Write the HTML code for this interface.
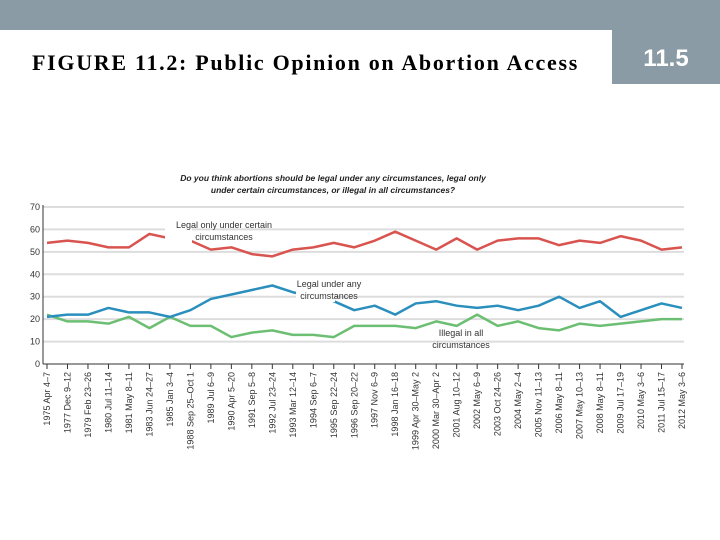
<!DOCTYPE html>
<html><head><meta charset="utf-8"><style>
body{margin:0;width:720px;height:540px;overflow:hidden;background:#fff;position:relative;font-family:"Liberation Sans",sans-serif}
#bar{position:absolute;left:0;top:0;width:720px;height:30px;background:#8a9ba5}
#box{position:absolute;left:612px;top:0;width:108px;height:84px;background:#8a9ba5;color:#fff;font-weight:bold;font-size:24px;text-align:center;line-height:118px}
#title{position:absolute;left:32px;top:50px;font-family:"Liberation Serif",serif;font-weight:bold;font-size:22px;letter-spacing:1.7px;color:#000;white-space:nowrap}
svg{position:absolute;left:0;top:0}
</style></head><body>
<div id="bar"></div>
<div id="box">11.5</div>
<div id="title">FIGURE 11.2: Public Opinion on Abortion Access</div>
<svg id="chart" width="720" height="540"></svg>
<script>
const categories=["1975 Apr 4–7","1977 Dec 9–12","1979 Feb 23–26","1980 Jul 11–14","1981 May 8–11","1983 Jun 24–27","1985 Jan 3–4","1988 Sep 25–Oct 1","1989 Jul 6–9","1990 Apr 5–20","1991 Sep 5–8","1992 Jul 23–24","1993 Mar 12–14","1994 Sep 6–7","1995 Sep 22–24","1996 Sep 20–22","1997 Nov 6–9","1998 Jan 16–18","1999 Apr 30–May 2","2000 Mar 30–Apr 2","2001 Aug 10–12","2002 May 6–9","2003 Oct 24–26","2004 May 2–4","2005 Nov 11–13","2006 May 8–11","2007 May 10–13","2008 May 8–11","2009 Jul 17–19","2010 May 3–6","2011 Jul 15–17","2012 May 3–6"];
const legalCertain=[54,55,54,52,52,58,56,55,51,52,49,48,51,52,54,52,55,59,55,51,56,51,55,56,56,53,55,54,57,55,51,52];
const legalAny=[21,22,22,25,23,23,21,24,29,31,33,35,32,30,28,24,26,22,27,28,26,25,26,24,26,30,25,28,21,24,27,25];
const illegalAll=[22,19,19,18,21,16,21,17,17,12,14,15,13,13,12,17,17,17,16,19,17,22,17,19,16,15,18,17,18,19,20,20];
const yTicks=[0,10,20,30,40,50,60,70];
const svg=document.getElementById('chart');const NS='http://www.w3.org/2000/svg';
const x0=43,x1=684,y0=364,yTop=207;
const xs=i=>x0+4+i*(x1-x0-6)/(categories.length-1);
const ys=v=>y0-(v/70)*(y0-yTop);
function mk(t,a){const e=document.createElementNS(NS,t);for(const k in a)e.setAttribute(k,a[k]);svg.appendChild(e);return e;}
let t=mk('text',{x:333,y:181,'text-anchor':'middle','font-size':'8.5','font-style':'italic','font-weight':'bold',fill:'#222'});t.textContent='Do you think abortions should be legal under any circumstances, legal only';


t=mk('text',{x:333,y:193,'text-anchor':'middle','font-size':'8.5','font-style':'italic','font-weight':'bold',fill:'#222'});t.textContent='under certain circumstances, or illegal in all circumstances?';


yTicks.forEach(v=>{
 if(v>0){const g=mk('line',{x1:x0,x2:x1,y1:ys(v),y2:ys(v),stroke:'#ddd','stroke-width':2});
 
 }
 const l=mk('text',{x:40,y:ys(v)+3,'text-anchor':'end','font-size':'9',fill:'#333'});l.textContent=v;
 
 
});
let a=mk('line',{x1:x0,x2:x0,y1:yTop-2,y2:y0,stroke:'#333'});


a=mk('line',{x1:x0,x2:x1,y1:y0,y2:y0,stroke:'#333'});


categories.forEach((c,i)=>{
 const tk=mk('line',{x1:xs(i),x2:xs(i),y1:y0,y2:y0+5,stroke:'#333'});
 
 
 const l=mk('text',{x:xs(i)+3,y:y0+8,'text-anchor':'end','font-size':'9',fill:'#333',transform:`rotate(-90 ${xs(i)+3} ${y0+8})`});l.textContent=c;
 
 
});
function series(d,col,name){
 const p=mk('polyline',{points:d.map((v,i)=>xs(i)+','+ys(v)).join(' '),fill:'none',stroke:col,'stroke-width':2.5,'stroke-linejoin':'round'});
 
 
}
function gap(x,y,w,h,name){
 const r=mk('rect',{x:x,y:y,width:w,height:h,fill:'#fff'});
 
 
}
series(illegalAll,'#6cbf72','line-illegal-all');
series(legalAny,'#2a8fbd','line-legal-any');
series(legalCertain,'#d9534f','line-legal-certain');
gap(165,225,27,20,'red-line-gap');
gap(296,280,39,22,'blue-line-gap');
function lab(cx,y,lines,name){
 lines.forEach((s,i)=>{const tt=mk('text',{x:cx,y:y+i*12,'text-anchor':'middle','font-size':'9',fill:'#333'});tt.textContent=s;
 
 });
}
lab(224,228,['Legal only under certain','circumstances'],'label-legal-certain');
lab(329,287,['Legal under any','circumstances'],'label-legal-any');
lab(461,336,['Illegal in all','circumstances'],'label-illegal-all');
</script>
</body></html>
